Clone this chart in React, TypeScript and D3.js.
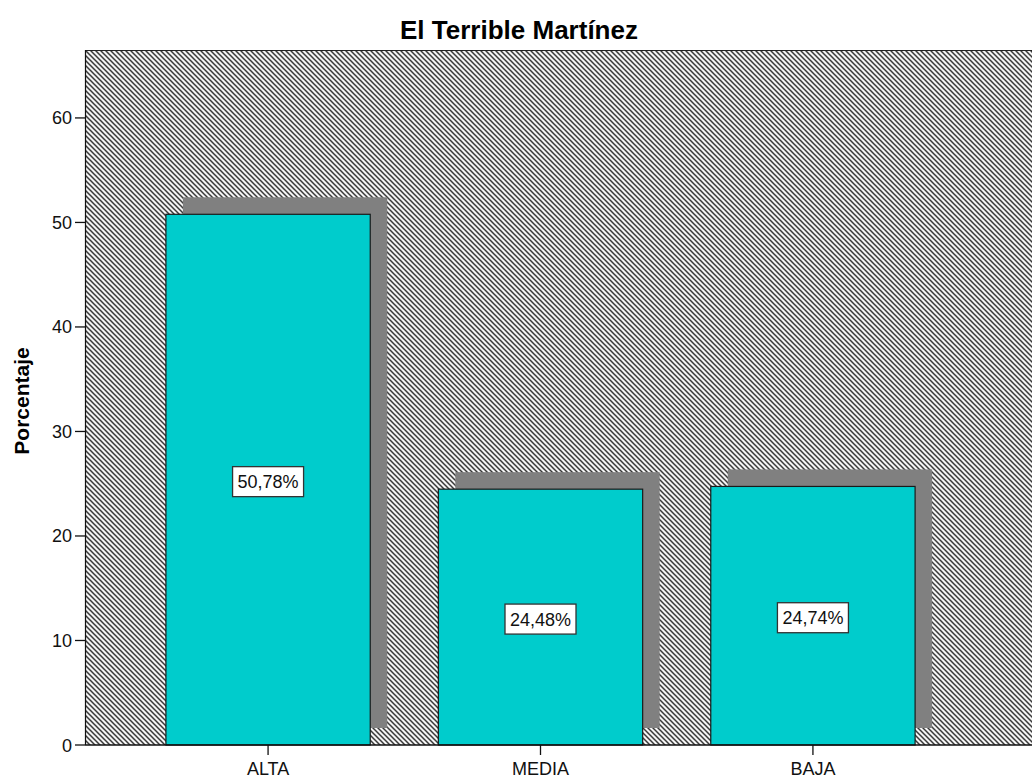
import React from "react";
import * as d3 from "d3";

const categories = ["ALTA", "MEDIA", "BAJA"];
const values = [50.78, 24.48, 24.74];
const valueLabels = ["50,78%", "24,48%", "24,74%"];
const yTicks = [0, 10, 20, 30, 40, 50, 60];
const title = "El Terrible Martínez";
const yTitle = "Porcentaje";

const W = 1032;
const H = 778;
const plotLeft = 85;
const plotTop = 50;
const plotBottom = 745;
const plotRight = 1040;
const font = "'Liberation Sans', Arial, Helvetica, sans-serif";
const shadowOff = 17;

export default function App() {
  const x = d3
    .scaleBand<string>()
    .domain(categories)
    .range([plotLeft, 996])
    .paddingInner(0.25)
    .paddingOuter(0.297);
  const y = d3.scaleLinear().domain([0, 66.5]).range([plotBottom, plotTop]);
  const bw = x.bandwidth();

  return (
    <svg
      width={W}
      height={H}
      style={{ position: "absolute", left: 0, top: 0, background: "#fff" }}
      fontFamily={font}
    >
      <defs>
        <pattern id="hatch" patternUnits="userSpaceOnUse" width={5} height={5}>
          <rect width={5} height={5} fill="#f4f4f4" />
          <path
            d="M-1,-1 L6,6 M4,-1 L6,1 M-1,4 L1,6"
            stroke="#3a3a3a"
            strokeWidth={1.5}
          />
        </pattern>
      </defs>
      <text
        x={519}
        y={39}
        textAnchor="middle"
        fontSize={26}
        fontWeight="bold"
        fill="#000"
      >
        {title}
      </text>
      <rect
        x={plotLeft}
        y={plotTop}
        width={plotRight - plotLeft}
        height={plotBottom - plotTop}
        fill="url(#hatch)"
      />
      <line x1={plotLeft} x2={plotRight} y1={plotTop + 0.5} y2={plotTop + 0.5} stroke="#222" strokeWidth={1} />
      <line x1={plotLeft + 0.5} x2={plotLeft + 0.5} y1={plotTop} y2={plotBottom} stroke="#111" strokeWidth={1.2} />
      {categories.map((c, i) => (
        <rect
          key={"s" + c}
          x={(x(c) as number) + shadowOff}
          y={y(values[i]) - shadowOff}
          width={bw}
          height={plotBottom - y(values[i])}
          fill="#808080"
        />
      ))}
      {categories.map((c, i) => (
        <rect
          key={"b" + c}
          x={x(c) as number}
          y={y(values[i])}
          width={bw}
          height={plotBottom - y(values[i])}
          fill="#00CCCC"
          stroke="#1a1a1a"
          strokeWidth={1.2}
        />
      ))}
      <line x1={plotLeft} x2={plotRight} y1={plotBottom} y2={plotBottom} stroke="#111" strokeWidth={1.5} />
      {categories.map((c, i) => {
        const cx = (x(c) as number) + bw / 2;
        const cy = (y(values[i]) + plotBottom) / 2 + 2;
        return (
          <g key={"l" + c}>
            <rect
              x={cx - 35.5}
              y={cy - 15}
              width={71}
              height={30}
              fill="#fff"
              stroke="#333"
              strokeWidth={1.3}
            />
            <text
              x={cx}
              y={cy + 6.5}
              textAnchor="middle"
              fontSize={18}
              fill="#111"
            >
              {valueLabels[i]}
            </text>
          </g>
        );
      })}
      {yTicks.map((t) => (
        <g key={"yt" + t}>
          <line x1={75} x2={plotLeft} y1={y(t)} y2={y(t)} stroke="#111" strokeWidth={1.3} />
          <text x={72} y={y(t) + 6.5} textAnchor="end" fontSize={18} fill="#111">
            {t}
          </text>
        </g>
      ))}
      {categories.map((c) => {
        const cx = (x(c) as number) + bw / 2;
        return (
          <g key={"xt" + c}>
            <line x1={cx} x2={cx} y1={plotBottom} y2={plotBottom + 10} stroke="#111" strokeWidth={1.3} />
            <text x={cx} y={775} textAnchor="middle" fontSize={18} fill="#111">
              {c}
            </text>
          </g>
        );
      })}
      <text
        transform={`translate(29,401) rotate(-90)`}
        textAnchor="middle"
        fontSize={21}
        fontWeight="bold"
        fill="#000"
      >
        {yTitle}
      </text>
    </svg>
  );
}
